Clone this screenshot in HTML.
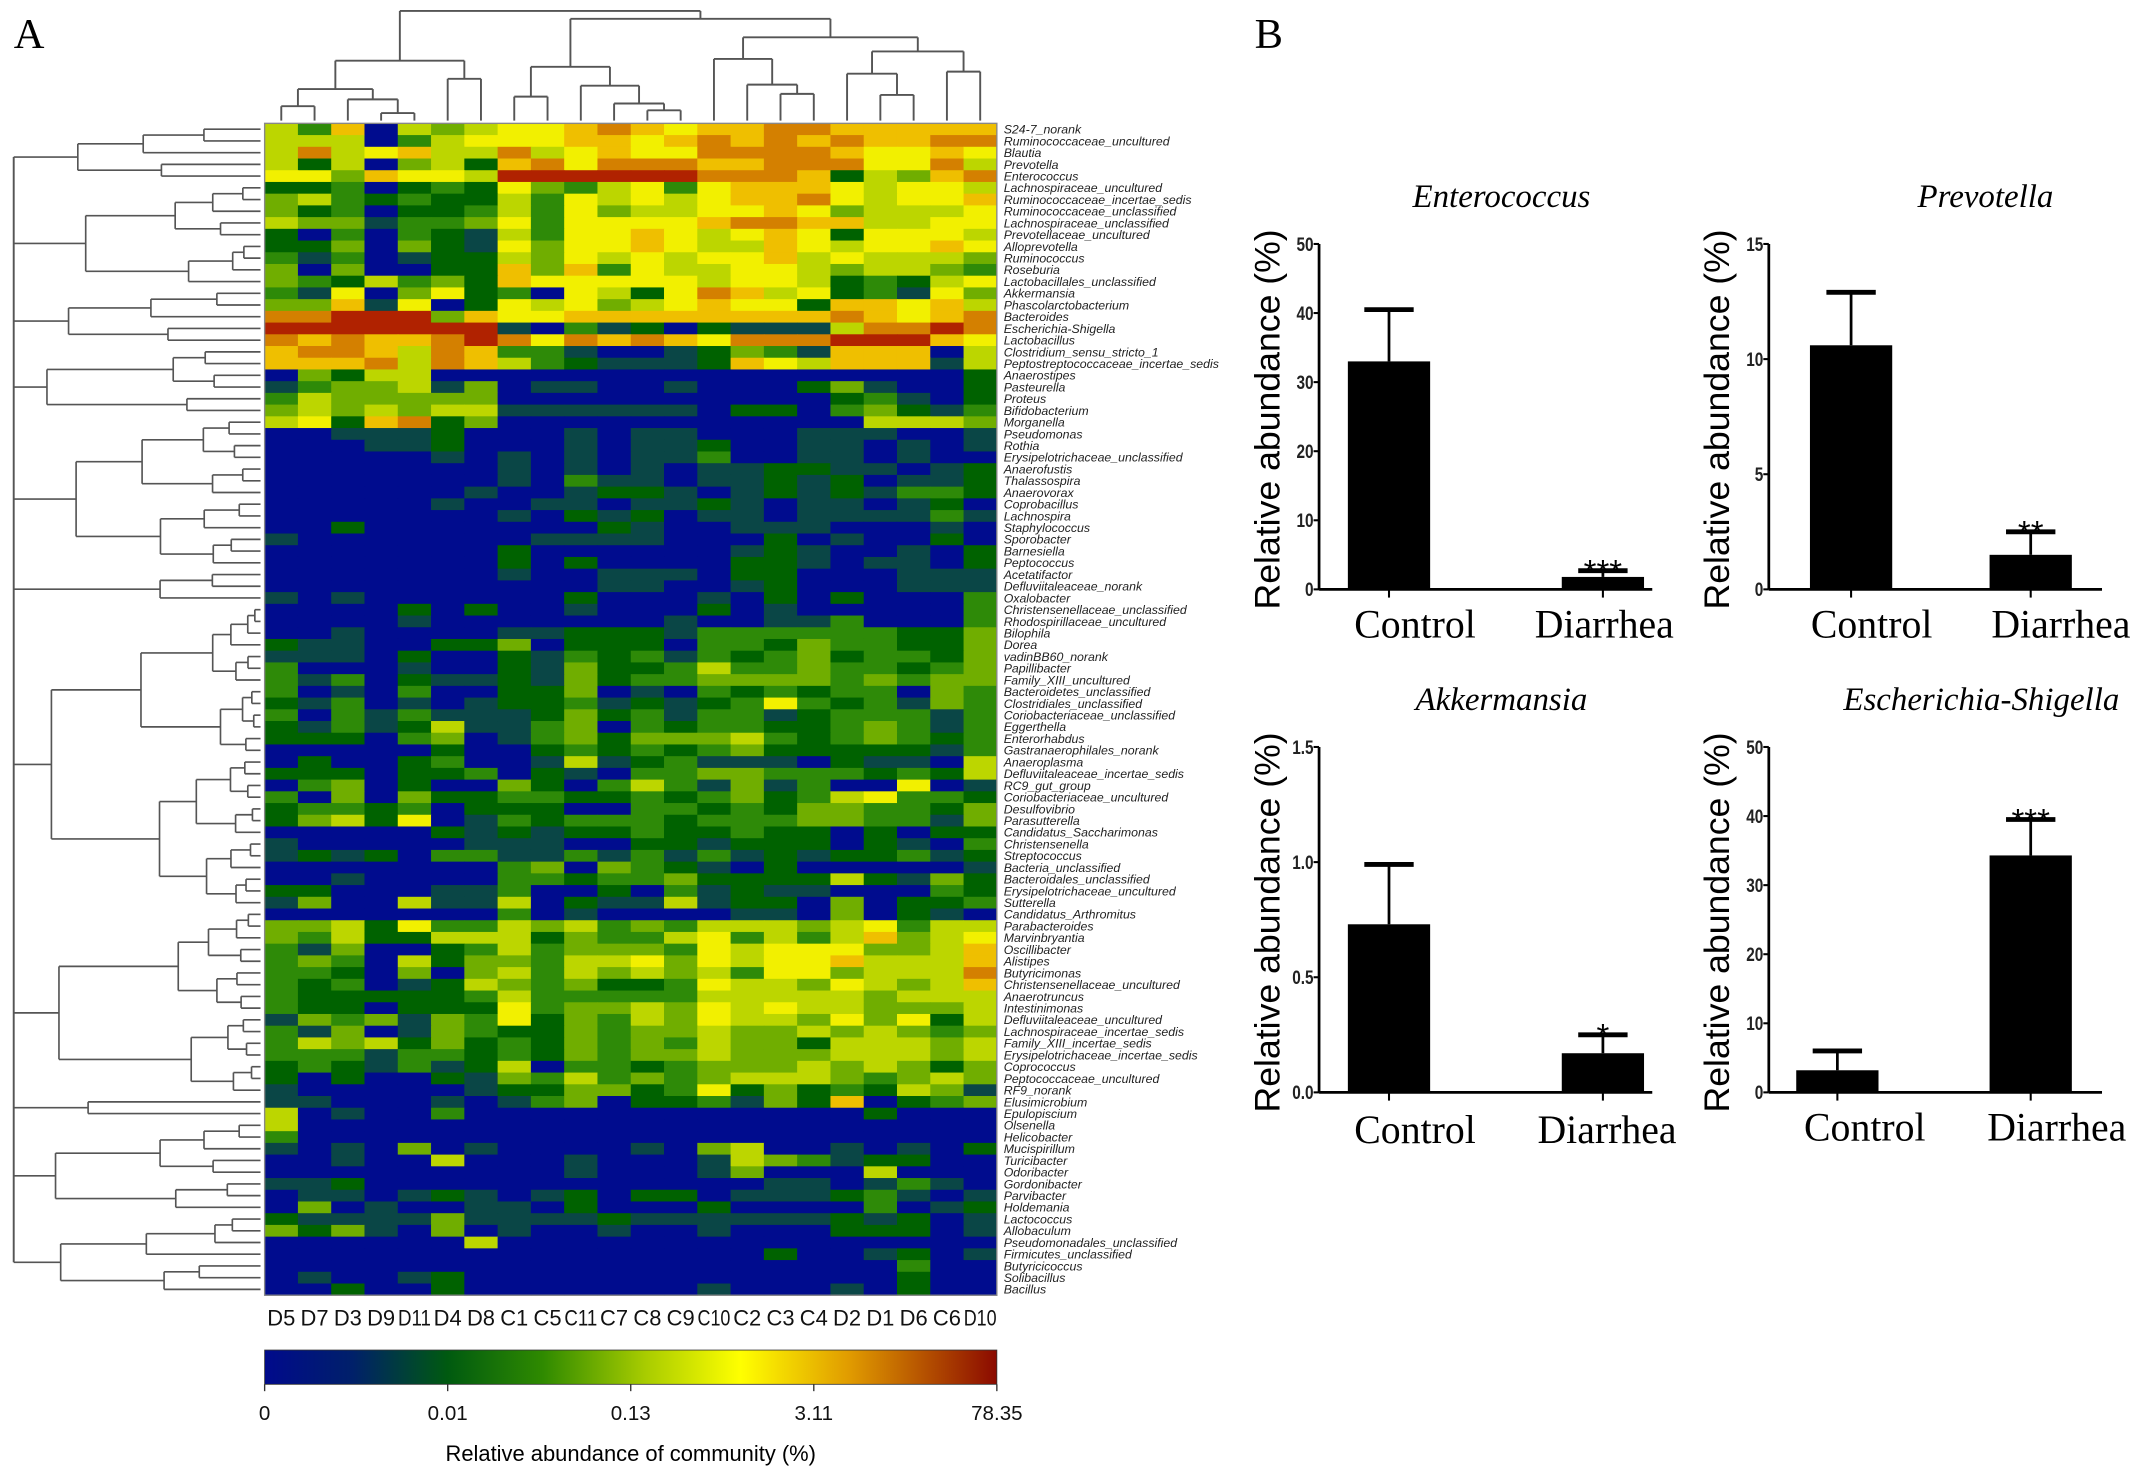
<!DOCTYPE html>
<html><head><meta charset="utf-8"><style>
html,body{margin:0;padding:0;background:#fff;}
svg{display:block;}
text{font-family:"Liberation Sans",sans-serif;}
.serif{font-family:"Liberation Serif",serif;}
</style></head><body>
<svg id="fig" xmlns="http://www.w3.org/2000/svg" width="2150" height="1483" viewBox="0 0 1568 1082" preserveAspectRatio="none">
<defs>
<linearGradient id="cbgrad" x1="0" x2="1" y1="0" y2="0">
<stop offset="0" stop-color="#000a8c"/><stop offset="0.12" stop-color="#00206a"/>
<stop offset="0.25" stop-color="#005a10"/><stop offset="0.38" stop-color="#2f8a00"/>
<stop offset="0.52" stop-color="#a8cc00"/><stop offset="0.65" stop-color="#ffff00"/>
<stop offset="0.8" stop-color="#e09a00"/><stop offset="1" stop-color="#8b0a00"/>
</linearGradient>
</defs>
<text x="10" y="35" class="serif" font-size="31">A</text>
<text x="915" y="35" class="serif" font-size="31">B</text>
<g id="heat"></g>
<g id="dendTop"></g>
<g id="dendLeft"></g>
<g id="rowLabels"></g>
<g id="colLabels"></g>
<g id="colorbar">
<rect x="193" y="985" width="534" height="25" fill="url(#cbgrad)" stroke="#333" stroke-width="0.6"/>
<text x="460" y="1066" font-size="16" text-anchor="middle">Relative abundance of community (%)</text>
</g>
<g id="bars"></g>
</svg>
<script>
const columns = ['D5','D7','D3','D9','D11','D4','D8','C1','C5','C11','C7','C8','C9','C10','C2','C3','C4','D2','D1','D6','C6','D10'];
const taxa = ['S24-7_norank','Ruminococcaceae_uncultured','Blautia','Prevotella','Enterococcus','Lachnospiraceae_uncultured','Ruminococcaceae_incertae_sedis','Ruminococcaceae_unclassified','Lachnospiraceae_unclassified','Prevotellaceae_uncultured','Alloprevotella','Ruminococcus','Roseburia','Lactobacillales_unclassified','Akkermansia','Phascolarctobacterium','Bacteroides','Escherichia-Shigella','Lactobacillus','Clostridium_sensu_stricto_1','Peptostreptococcaceae_incertae_sedis','Anaerostipes','Pasteurella','Proteus','Bifidobacterium','Morganella','Pseudomonas','Rothia','Erysipelotrichaceae_unclassified','Anaerofustis','Thalassospira','Anaerovorax','Coprobacillus','Lachnospira','Staphylococcus','Sporobacter','Barnesiella','Peptococcus','Acetatifactor','Defluviitaleaceae_norank','Oxalobacter','Christensenellaceae_unclassified','Rhodospirillaceae_uncultured','Bilophila','Dorea','vadinBB60_norank','Papillibacter','Family_XIII_uncultured','Bacteroidetes_unclassified','Clostridiales_unclassified','Coriobacteriaceae_unclassified','Eggerthella','Enterorhabdus','Gastranaerophilales_norank','Anaeroplasma','Defluviitaleaceae_incertae_sedis','RC9_gut_group','Coriobacteriaceae_uncultured','Desulfovibrio','Parasutterella','Candidatus_Saccharimonas','Christensenella','Streptococcus','Bacteria_unclassified','Bacteroidales_unclassified','Erysipelotrichaceae_uncultured','Sutterella','Candidatus_Arthromitus','Parabacteroides','Marvinbryantia','Oscillibacter','Alistipes','Butyricimonas','Christensenellaceae_uncultured','Anaerotruncus','Intestinimonas','Defluviitaleaceae_uncultured','Lachnospiraceae_incertae_sedis','Family_XIII_incertae_sedis','Erysipelotrichaceae_incertae_sedis','Coprococcus','Peptococcaceae_uncultured','RF9_norank','Elusimicrobium','Epulopiscium','Olsenella','Helicobacter','Mucispirillum','Turicibacter','Odoribacter','Gordonibacter','Parvibacter','Holdemania','Lactococcus','Allobaculum','Pseudomonadales_unclassified','Firmicutes_unclassified','Butyricicoccus','Solibacillus','Bacillus'];
// colour level 0 (lowest) .. 9 (highest) per taxon row, one digit per column
const levels = [
'5370545667876778877777','5550356667767878787788','5856755856766888876676','5250452786888778886685','6647665999999888725478',
'2230232643563677765665','4532322536565677865667','4230223536455667645556','5441334636666788775566','2030321536676567626665',
'2240421646676557656676','3130122546565667565554','4040022747365566545543','4325342766666566523256','3160462306526875623164',
'4471602656456766277675','8899947667777777787678','9999999103120211158898','8787789868787688899976','7887587331001243177705',
'7778587532111276577715','0425500000000000000002','1344514011001000241002','3544444000000000023102','4545455111111022034213',
'5627824000000000005554','0011120001011000111001','0001120001011200110101','0000010101011300110100','0000000101010112211012',
'0000000103110112120112','0000001001221012121332','0000010011011210110120','0000000102120110111131','0020000000210011100010',
'1000000011110002010020','0000000200000012100102','0000000202000022101102','0000000100111022000111','0000000000110012000111',
'1010000002000102020003','0000202001000201000003','0000100000001001130003','0010000112221333333224','2110022402220332433224',
'1110200213231323423324','3000100214223533433234','3130211214233444434344','3010300224010323233043','2130101223121236323143',
'3031311124231331233313','2131251134032332234313','2220340134244453234323','0000020023232342222213','0200230015123111021105',
'2220223021033443332325','0340200420353141300601','3040422332232342356332','2332302220033232443324','2452601323332333443314',
'0000021212232232202022','1000001110022122202103','1212033113131312122312','0000000340432102000001','0010000332334222252142',
'2200011300203121100032','1400511502115122040223','0000000301000011040210','4452633545343555456355','4352255524335635357456',
'3140023534443656664457','3430524435564656675557','3320404535454536645558','3230125434223655465457','3222223533333555554555',
'3220222634454656554445','1434143624354655464625','3140143224344544545434','3545242324343544255545','3331332324344544455545',
'2321312503323444545424','2020021435343455543454','1000001224423624232541','1100010134022314270234','5010030000000000002000',
'5000000000000000000000','3000000000000000000000','1010401000010450010102','0010050001000154312200','0000000001000140005000',
'1120000000000001101310','0110121012022011123101','0401001102000200003012','2111141111211111121201','4241040100100100022201',
'0000005000000000000000','0000000000000002001201','0000000000000000000300','0100120000000000000200','0020020000000100010200'];
const colorbarTicks = ['0','0.01','0.13','3.11','78.35'];

// bar chart data
const groups = ['Control','Diarrhea'];
const titles = ['Enterococcus','Prevotella','Akkermansia','Escherichia-Shigella'];
const enterococcusMean = [33.0, 1.8];
const enterococcusErr = [40.5, 2.7];
const prevotellaMean = [10.6, 1.5];
const prevotellaErr = [12.9, 2.5];
const akkermansiaMean = [0.73, 0.17];
const akkermansiaErr = [0.99, 0.25];
const escherichiaMean = [3.2, 34.3];
const escherichiaErr = [6.0, 39.5];
const enterococcusTicks = ['0','10','20','30','40','50'];
const prevotellaTicks = ['0','5','10','15'];
const akkermansiaTicks = ['0.0','0.5','1.0','1.5'];
const escherichiaTicks = ['0','10','20','30','40','50'];
const sigStars = [['','***'],['','**'],['','*'],['','***']];

const NS='http://www.w3.org/2000/svg';
function mk(tag, parent, attrs){const e=document.createElementNS(NS,tag);for(const k in attrs)e.setAttribute(k,attrs[k]);parent.appendChild(e);return e;}
const palette=['#000c8e','#0a4646','#006200','#2e8a08','#70ae00','#bcd600','#f2f000','#efbf00','#d48000','#b02200'];

// ---------- heatmap ----------
const HX0=193,HX1=727,HY0=90,HY1=945;
const cw=(HX1-HX0)/columns.length, rh=(HY1-HY0)/taxa.length;
const xCol=i=>HX0+i*cw, yRow=r=>HY0+r*rh;
const heat=document.getElementById('heat');
levels.forEach((row,r)=>{
  for(let c=0;c<columns.length;c++){
    const v=+row[c];
    const cell=mk('rect',heat,{x:xCol(c).toFixed(2),y:yRow(r).toFixed(2),width:(cw+0.4).toFixed(2),height:(rh+0.4).toFixed(2),fill:palette[v]});
    
    
  }
});
const frame=mk('rect',heat,{x:HX0,y:HY0,width:HX1-HX0,height:HY1-HY0,fill:'none',stroke:'#888','stroke-width':1});



// row labels
const rl=document.getElementById('rowLabels');
taxa.forEach((t,r)=>{
  const tx=mk('text',rl,{x:732,y:(yRow(r)+rh*0.5+3.2).toFixed(2),'font-size':'9','font-style':'italic',fill:'#222'});
  tx.textContent=t;
  
  
});
// column labels
const cl=document.getElementById('colLabels');
columns.forEach((c,i)=>{
  const tx=mk('text',cl,{x:(xCol(i)+cw/2).toFixed(2),y:967,'font-size':'16','text-anchor':'middle',fill:'#111'});
  tx.textContent=c;
  if(c.length>2) tx.setAttribute('textLength','24'), tx.setAttribute('lengthAdjust','spacingAndGlyphs');
  
  
});
// colorbar ticks
const cb=document.getElementById('colorbar');
colorbarTicks.forEach((t,i)=>{
  const x=HX0+i*(HX1-HX0)/(colorbarTicks.length-1);
  const tk=mk('line',cb,{x1:x,x2:x,y1:1010,y2:1015,stroke:'#333','stroke-width':1});
  
  
  const tx=mk('text',cb,{x:x,y:1036,'font-size':'15','text-anchor':'middle',fill:'#111'});
  tx.textContent=t;
  
  
});

// ---------- dendrograms ----------
function seg(g,x1,y1,x2,y2,w){const l=mk('line',g,{x1:x1,y1:y1,x2:x2,y2:y2,stroke:'#555','stroke-width':w||1.4});}
// top: tree of column leaves, heights in y
const dt=document.getElementById('dendTop');
const topTree=[8,[180,[263,[313,0,1],[293,2,[333,3,4]]],[233,5,6]],[58,[198,[285,7,8],[253,9,[305,10,[325,11,12]]]],[112,[175,13,[250,14,[277,15,16]]],[153,[218,17,[280,18,19]],[212,20,21]]]]];
const zy=h=>8+(h-35)*0.25;
function drawTop(n){
  if(typeof n==='number') return {x:xCol(n)+cw/2,y:88};
  const a=drawTop(n[1]),b=drawTop(n[2]);const y=n[0]===8?8:zy(n[0]);
  seg(dt,a.x,a.y,a.x,y);seg(dt,b.x,b.y,b.x,y);seg(dt,a.x,y,b.x,y);
  return {x:(a.x+b.x)/2,y:y};
}
drawTop(topTree);
// left: row clusters
const dl=document.getElementById('dendLeft');
const zx=h=>10+(h-38)*0.25;
function buildLeft(lo,hi,h,depth){
  if(lo===hi) return {x:190,y:yRow(lo)+rh/2};
  const mid=Math.floor((lo+hi)/2+((depth%2)?0.5:0));
  const m=Math.min(Math.max(mid,lo),hi-1);
  const f=[0.35,0.5,0.42,0.58][depth%4];
  const hc=h+(770-h)*f;
  const a=buildLeft(lo,m,hc,depth+1),b=buildLeft(m+1,hi,hc+(770-hc)*0.15,depth+2);
  const x=zx(h);
  seg(dl,a.x,a.y,x,a.y,1.2);seg(dl,b.x,b.y,x,b.y,1.2);seg(dl,x,a.y,x,b.y,1.2);
  return {x:x,y:(a.y+b.y)/2};
}
const leftGroups=[[0,4,225],[5,13,248],[14,18,198],[19,24,135],[25,37,220],[38,40,465],[41,66,148],[67,82,170],[83,84,255],[85,92,160],[93,99,175]];
const tops=leftGroups.map((g,i)=>buildLeft(g[0],g[1],g[2],i));
const rx=zx(38);
tops.forEach(t=>seg(dl,t.x,t.y,rx,t.y,1.2));
seg(dl,rx,tops[0].y,rx,tops[tops.length-1].y,1.4);

// ---------- bar charts ----------
const bars=document.getElementById('bars');
function barChart(name,title,means,errs,ticks,stars,ax,top,zero,xc,xd,xlc,xld,ly,tx){
  const g=mk('g',bars,{});
  
  
  const maxV=+ticks[ticks.length-1];
  const yv=v=>zero-(v/maxV)*(zero-top);
  const t=mk('text',g,{x:tx,y:top-27,'font-size':'24','font-style':'italic','text-anchor':'middle',class:'serif',fill:'#000'});
  t.textContent=title;
  
  
  const yl=mk('text',g,{x:0,y:0,'font-size':'26','text-anchor':'middle',fill:'#000',transform:`translate(${ax-29},${(top+zero)/2+2}) rotate(-90)`});
  yl.textContent='Relative abundance (%)';
  
  
  const yaxis=mk('line',g,{x1:ax,x2:ax,y1:top,y2:zero,stroke:'#000','stroke-width':2});
  
  
  const xaxis=mk('line',g,{x1:ax,x2:ax+243,y1:zero,y2:zero,stroke:'#000','stroke-width':2});
  
  
  ticks.forEach(tk=>{
    const y=yv(+tk);
    const l=mk('line',g,{x1:ax-4,x2:ax,y1:y,y2:y,stroke:'#000','stroke-width':1.5});
    
    
    const lb=mk('text',g,{x:ax-4,y:y+5,'font-size':'14','font-weight':'bold','text-anchor':'end',fill:'#222',transform:`translate(${(ax-4)*0.2},0) scale(0.8,1)`});
    lb.textContent=tk;
    
    
  });
  const centers=[xc,xd], labX=[xlc,xld];
  groups.forEach((grp,i)=>{
    const c=centers[i];
    const b=mk('rect',g,{x:c-30,y:yv(means[i]),width:60,height:zero-yv(means[i]),fill:'#000'});
    
    
    const e=mk('line',g,{x1:c,x2:c,y1:yv(means[i]),y2:yv(errs[i]),stroke:'#000','stroke-width':2});
    
    
    const cap=mk('line',g,{x1:c-18,x2:c+18,y1:yv(errs[i]),y2:yv(errs[i]),stroke:'#000','stroke-width':3.5});
    
    
    const tck=mk('line',g,{x1:c,x2:c,y1:zero,y2:zero+6,stroke:'#000','stroke-width':1.5});
    
    
    if(stars[i]){
      const s=mk('text',g,{x:c,y:yv(errs[i])+9,'font-size':'24','text-anchor':'middle',fill:'#000'});
      s.textContent=stars[i];
      
      
    }
    const lb=mk('text',g,{x:labX[i],y:ly,'font-size':'29','text-anchor':'middle',class:'serif',fill:'#000'});
    lb.textContent=grp;
    
    
  });
}
barChart('enterococcus-chart',titles[0],enterococcusMean,enterococcusErr,enterococcusTicks,sigStars[0],962,178,430,1013,1169,1032,1170,465,1095);
barChart('prevotella-chart',titles[1],prevotellaMean,prevotellaErr,prevotellaTicks,sigStars[1],1290,178,430,1350,1481,1365,1503,465,1448);
barChart('akkermansia-chart',titles[2],akkermansiaMean,akkermansiaErr,akkermansiaTicks,sigStars[2],962,545,797,1013,1169,1032,1172,834,1095);
barChart('escherichia-chart',titles[3],escherichiaMean,escherichiaErr,escherichiaTicks,sigStars[3],1290,545,797,1340,1481,1360,1500,832,1445);
</script>
</body></html>
